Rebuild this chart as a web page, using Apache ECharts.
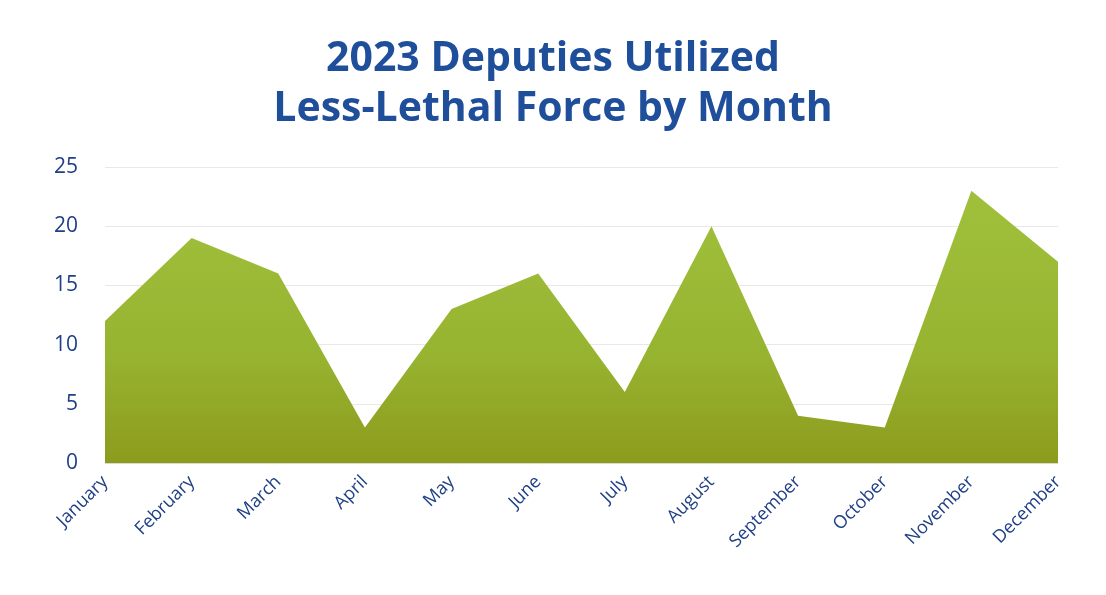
<!DOCTYPE html>
<html>
<head>
<meta charset="utf-8">
<script src="https://cdn.jsdelivr.net/npm/echarts@6/dist/echarts.min.js"></script>
<style>
  html, body { margin: 0; padding: 0; background: #ffffff; }
  #chart { width: 1106px; height: 595px; }
</style>
</head>
<body>
<div id="chart"></div>
<script>
// Monthly counts of less-lethal force use
const months = ['January', 'February', 'March', 'April', 'May', 'June',
  'July', 'August', 'September', 'October', 'November', 'December'];
const incidents = [12, 19, 16, 3, 13, 16, 6, 20, 4, 3, 23, 17];
const titleLines = ['2023 Deputies Utilized', 'Less-Lethal Force by Month'];

const chart = echarts.init(document.getElementById('chart'));
chart.setOption({
  backgroundColor: '#ffffff',
  animation: false,
  title: {
    text: titleLines.join('\n'),
    left: 'center',
    top: 29,
    textStyle: {
      fontFamily: 'Open Sans',
      fontWeight: 'bold',
      fontSize: 41,
      lineHeight: 50,
      color: '#1f4f9a'
    }
  },
  grid: { left: 105, right: 48, top: 167, bottom: 132 },
  xAxis: {
    type: 'category',
    data: months,
    boundaryGap: false,
    axisLine: { lineStyle: { color: '#d9d9d9', width: 1 } },
    axisTick: { show: false },
    axisLabel: {
      rotate: 45,
      interval: 0,
      margin: 16,
      fontFamily: 'Open Sans',
      fontSize: 18,
      color: '#1f3f86'
    }
  },
  yAxis: {
    type: 'value',
    min: 0,
    max: 25,
    interval: 5,
    axisLine: { show: false },
    axisTick: { show: false },
    splitLine: { lineStyle: { color: '#e8e8e8', width: 1 } },
    axisLabel: {
      margin: 27,
      fontFamily: 'Open Sans',
      fontSize: 21,
      color: '#1f3f86'
    }
  },
  series: [{
    type: 'line',
    data: incidents,
    symbol: 'none',
    lineStyle: { width: 0 },
    areaStyle: {
      opacity: 1,
      color: new echarts.graphic.LinearGradient(0, 0, 0, 1, [
        { offset: 0, color: '#a0c03c' },
        { offset: 0.6, color: '#97b431' },
        { offset: 1, color: '#8d9b1d' }
      ])
    }
  }]
});
</script>
</body>
</html>
